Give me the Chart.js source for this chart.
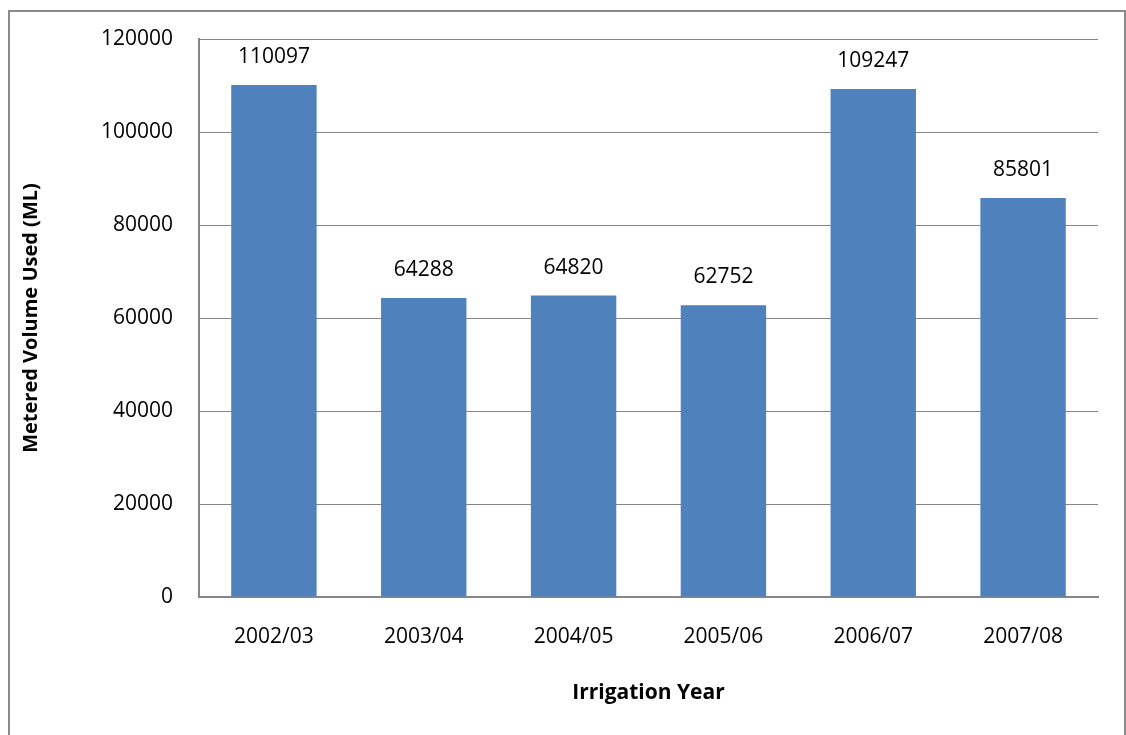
<!DOCTYPE html>
<html>
<head>
<meta charset="utf-8">
<script src="https://cdn.jsdelivr.net/npm/chart.js@4"></script>
<style>
	html, body { margin: 0; padding: 0; background: #fff; }
	#wrap { width: 1126px; height: 735px; }
</style>
</head>
<body>
<div id="wrap"><canvas id="graph"></canvas></div>
<script>
"use strict";

// data
const YEARS		= ["2002/03", "2003/04", "2004/05", "2005/06", "2006/07", "2007/08"]
const VOLUMES	= [110097, 64288, 64820, 62752, 109247, 85801]
const Y_TICKS	= [0, 20000, 40000, 60000, 80000, 100000, 120000]

const FONT_FAMILY = "'Open Sans', sans-serif"
const GRID_COLOR = "#868686"

// outer frame round the chart (as in the spreadsheet export)
const frame_plugin = {
	id: "frame",
	beforeDraw: function(chart) {
		const ctx = chart.ctx
		ctx.save()
		ctx.fillStyle = "#fff"
		ctx.fillRect(0, 0, chart.width, chart.height)
		ctx.strokeStyle = "#8a8a8a"
		ctx.lineWidth = 2
		ctx.strokeRect(9, 11, 1116, 800)
		ctx.restore()
	}
}

// value labels above each bar
const value_labels = {
	id: "value_labels",
	afterDatasetsDraw: function(chart) {
		const ctx = chart.ctx
		const meta = chart.getDatasetMeta(0)
		ctx.save()
		ctx.font = "21px " + FONT_FAMILY
		ctx.fillStyle = "#000"
		ctx.textAlign = "center"
		ctx.textBaseline = "middle"
		meta.data.forEach((bar, i) => {
			ctx.fillText(String(VOLUMES[i]), bar.x, bar.y - 28)
		})
		ctx.restore()
	}
}

const chart = new Chart(document.getElementById("graph"), {
	type: "bar",
	data: {
		labels: YEARS,
		datasets: [{
			label: "Metered Volume Used (ML)",
			data: VOLUMES,
			backgroundColor: "#4F81BD",
			borderWidth: 0,
			categoryPercentage: 1,
			barPercentage: 0.57,
		}],
	},
	plugins: [frame_plugin, value_labels],
	options: {
		responsive: true,
		maintainAspectRatio: false,
		animation: false,
		devicePixelRatio: 1,
		layout: {
			padding: { top: 39, right: 28, bottom: 0, left: 0 }
		},
		scales: {
			x: {
				grid: { display: false, drawTicks: false },
				border: { display: true, color: GRID_COLOR, width: 2 },
				ticks: {
					color: "#000",
					padding: 27,
					font: { family: FONT_FAMILY, size: 21 },
				},
				title: {
					display: true,
					text: "Irrigation Year",
					color: "#000",
					font: { family: FONT_FAMILY, size: 21, weight: "bold" },
					padding: { top: 0, bottom: 29 },
				},
				afterFit: function(scale) { scale.height = 138 },
			},
			y: {
				min: 0,
				max: 120000,
				afterBuildTicks: function(scale) {
					scale.ticks = Y_TICKS.map((v) => ({ value: v }))
				},
				grid: { color: GRID_COLOR, lineWidth: 1, drawTicks: false },
				border: { display: true, color: GRID_COLOR, width: 2 },
				ticks: {
					color: "#000",
					padding: 26,
					font: { family: FONT_FAMILY, size: 21 },
					callback: (value) => String(value),
				},
				title: {
					display: true,
					text: "Metered Volume Used (ML)",
					color: "#000",
					font: { family: FONT_FAMILY, size: 20, weight: "bold" },
					padding: { top: 19, bottom: 0 },
				},
				afterFit: function(scale) { scale.width = 199 },
			},
		},
		plugins: {
			legend: { display: false },
			tooltip: { enabled: false },
		},
	},
})
</script>
</body>
</html>
